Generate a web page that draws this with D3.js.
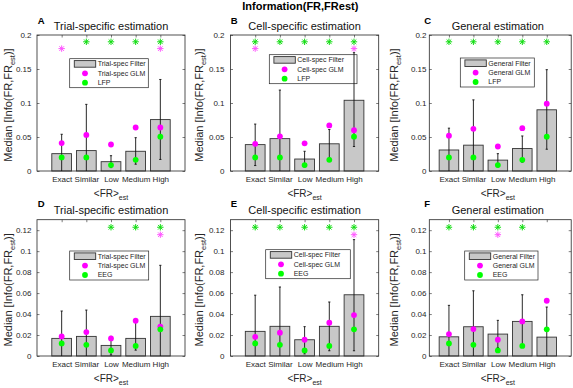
<!DOCTYPE html>
<html>
<head>
<meta charset="utf-8">
<script src="https://cdn.jsdelivr.net/npm/d3@7"></script>
<style>
  body { margin: 0; background: #fff; }
  text { font-family: "Liberation Sans", Arial, Helvetica, sans-serif; }
</style>
</head>
<body>
<svg id="chart" width="573" height="388"></svg>
<script>
const categories = ['Exact', 'Similar', 'Low', 'Medium', 'High'];

// top row: LFP
const lfpMedian = [0.020, 0.020, 0.0087, 0.0165, 0.0505];
const trialFilterLFP = [0.0255, 0.030, 0.0137, 0.029, 0.0756];
const trialLoLFP = [0, 0, 0.005, 0.010, 0.017];
const trialHiLFP = [0.054, 0.098, 0.0225, 0.049, 0.1346];
const trialGlmLFP = [0.041, 0.053, 0.039, 0.064, 0.064];
const cellFilterLFP = [0.0388, 0.0476, 0.0176, 0.040, 0.104];
const cellLoLFP = [0.008, 0, 0.006, 0.019, 0.036];
const cellHiLFP = [0.069, 0.119, 0.029, 0.061, 0.174];
const cellGlmLFP = [0.040, 0.051, 0.0407, 0.067, 0.060];
const generalFilterLFP = [0.0309, 0.038, 0.016, 0.033, 0.090];
const generalLoLFP = [0, 0, 0.006, 0.013, 0.032];
const generalHiLFP = [0.063, 0.1046, 0.0255, 0.0515, 0.149];
const generalGlmLFP = [0.052, 0.062, 0.036, 0.063, 0.099];

// bottom row: EEG
const eegMedian = [0.012, 0.0107, 0.0053, 0.0096, 0.0254];
const trialFilterEEG = [0.0168, 0.0187, 0.0101, 0.0168, 0.0378];
const trialLoEEG = [0, 0, 0.001, 0.0056, 0];
const trialHiEEG = [0.0429, 0.0438, 0.0187, 0.032, 0.0865];
const trialGlmEEG = [0.0187, 0.0228, 0.0168, 0.0336, 0.0279];
const cellFilterEEG = [0.0235, 0.0283, 0.0155, 0.0283, 0.0584];
const cellLoEEG = [0, 0, 0.002, 0.005, 0.005];
const cellHiEEG = [0.058, 0.0658, 0.028, 0.0515, 0.111];
const cellGlmEEG = [0.0183, 0.0222, 0.0155, 0.0317, 0.039];
const generalFilterEEG = [0.0183, 0.0279, 0.0209, 0.033, 0.018];
const generalLoEEG = [0, 0, 0.008, 0.009, 0];
const generalHiEEG = [0.0483, 0.0622, 0.034, 0.0584, 0.0467];
const generalGlmEEG = [0.0209, 0.0257, 0.0155, 0.033, 0.0527];

// significance stars (1 = shown)
const trialStarSigLFP = [0, 1, 1, 1, 1];
const trialStarGlmLFP = [1, 0, 0, 0, 1];
const cellStarSigLFP = [1, 1, 1, 1, 1];
const cellStarGlmLFP = [1, 0, 0, 0, 1];
const generalStarSigLFP = [1, 1, 1, 1, 1];
const generalStarGlmLFP = [0, 0, 0, 0, 0];
const trialStarSigEEG = [0, 0, 1, 1, 1];
const trialStarGlmEEG = [0, 0, 0, 0, 1];
const cellStarSigEEG = [1, 1, 1, 1, 1];
const cellStarGlmEEG = [0, 0, 0, 0, 1];
const generalStarSigEEG = [1, 1, 1, 1, 0];
const generalStarGlmEEG = [0, 0, 1, 0, 0];
const starLevelsLFP = [0.19, 0.18];
const starLevelsEEG = [0.1228, 0.1157];

const yTicksLFP = [0, 0.05, 0.1, 0.15, 0.2];
const yTicksEEG = [0, 0.02, 0.04, 0.06, 0.08, 0.1, 0.12];

const cols = [
  {fl: 37, x0: 37, x1: 185, letterX: 37.7, titleX: 111, ylabX: 12.3, tickPad: 5.5},
  {fl: 230.5, x0: 230.5, x1: 378.7, letterX: 230.7, titleX: 304.6, ylabX: 202.5, tickPad: 6},
  {fl: 429.3, x0: 424.5, x1: 571.2, letterX: 424.3, titleX: 497.8, ylabX: 397.5, tickPad: 2.8}
];
const rows = [
  {yt: 35, yb: 171, ymax: 0.2, ticks: yTicksLFP, letterY: 24, titleY: 29.8, xlabY: 196.5, stars: starLevelsLFP, sig: lfpMedian, sigName: 'LFP'},
  {yt: 219.7, yb: 356, ymax: 0.13, ticks: yTicksEEG, letterY: 207.3, titleY: 213.9, xlabY: 382.3, stars: starLevelsEEG, sig: eegMedian, sigName: 'EEG'}
];

const panels = [
  {id: 'A', r: 0, c: 0, title: 'Trial-specific estimation', kind: 'Trial-spec', filt: trialFilterLFP, lo: trialLoLFP, hi: trialHiLFP, glm: trialGlmLFP, sG: trialStarSigLFP, sM: trialStarGlmLFP, leg: [69.7, 58.7, 78.6]},
  {id: 'B', r: 0, c: 1, title: 'Cell-specific estimation', kind: 'Cell-spec', filt: cellFilterLFP, lo: cellLoLFP, hi: cellHiLFP, glm: cellGlmLFP, sG: cellStarSigLFP, sM: cellStarGlmLFP, leg: [269.3, 54.7, 87.7]},
  {id: 'C', r: 0, c: 2, title: 'General estimation', kind: 'General', filt: generalFilterLFP, lo: generalLoLFP, hi: generalHiLFP, glm: generalGlmLFP, sG: generalStarSigLFP, sM: generalStarGlmLFP, leg: [460.3, 58, 74]},
  {id: 'D', r: 1, c: 0, title: 'Trial-specific estimation', kind: 'Trial-spec', filt: trialFilterEEG, lo: trialLoEEG, hi: trialHiEEG, glm: trialGlmEEG, sG: trialStarSigEEG, sM: trialStarGlmEEG, leg: [69.7, 251, 79]},
  {id: 'E', r: 1, c: 1, title: 'Cell-specific estimation', kind: 'Cell-spec', filt: cellFilterEEG, lo: cellLoEEG, hi: cellHiEEG, glm: cellGlmEEG, sG: cellStarSigEEG, sM: cellStarGlmEEG, leg: [265.7, 249.7, 84.6]},
  {id: 'F', r: 1, c: 2, title: 'General estimation', kind: 'General', filt: generalFilterEEG, lo: generalLoEEG, hi: generalHiEEG, glm: generalGlmEEG, sG: generalStarSigEEG, sM: generalStarGlmEEG, leg: [464.7, 251, 73.3]}
];

const svg = d3.select('#chart');
const ink = '#262626';
const magenta = '#ff00ff';
const green = '#00ff00';

svg.append('text')
  .attr('x', 300.3).attr('y', 10.3)
  .attr('text-anchor', 'middle')
  .style('font-size', '11px').style('font-weight', 'bold')
  .text('Information(FR,FRest)');

function drawStar(g, cx, cy, color) {
  const s = 3.2, d = 2.3;
  [[-s, 0, s, 0], [0, -s, 0, s], [-d, -d, d, d], [-d, d, d, -d]].forEach(l => {
    g.append('line')
      .attr('x1', cx + l[0]).attr('y1', cy + l[1])
      .attr('x2', cx + l[2]).attr('y2', cy + l[3])
      .attr('stroke', color).attr('stroke-width', 1);
  });
}

panels.forEach(p => {
  const col = cols[p.c], row = rows[p.r];
  const x = d3.scaleLinear().domain([0, 6]).range([col.x0, col.x1]);
  const y = d3.scaleLinear().domain([0, row.ymax]).range([row.yb, row.yt]);
  const g = svg.append('g');
  const idx = d3.range(categories.length);

  // axes (ticks point inward, box on)
  g.append('g')
    .attr('transform', `translate(${col.fl},0)`)
    .call(d3.axisLeft(y).tickValues(row.ticks).tickSize(-2.5).tickPadding(col.tickPad)
      .tickFormat(d => String(d)));
  g.append('g')
    .attr('transform', `translate(${col.x1},0)`)
    .call(d3.axisRight(y).tickValues(row.ticks).tickSize(-2.5).tickFormat(''));
  g.append('g')
    .attr('transform', `translate(0,${row.yb})`)
    .call(d3.axisBottom(x).tickValues([1, 2, 3, 4, 5]).tickSize(-2.5).tickPadding(5)
      .tickFormat(d => categories[d - 1]));
  g.append('g')
    .attr('transform', `translate(0,${row.yt})`)
    .call(d3.axisTop(x).tickValues([1, 2, 3, 4, 5]).tickSize(-2.5).tickFormat(''));
  g.selectAll('.domain').remove();
  g.selectAll('.tick line').attr('stroke', ink).attr('stroke-width', 0.6);
  g.selectAll('.tick text').attr('fill', ink).style('font-size', '8px')
    .style('font-family', '"Liberation Sans", Arial, sans-serif');

  // bars
  g.selectAll('rect.bar').data(idx).join('rect')
    .attr('class', 'bar')
    .attr('x', i => x(i + 1 - 0.4))
    .attr('width', i => x(0.8) - x(0))
    .attr('y', i => y(p.filt[i]))
    .attr('height', i => y(0) - y(p.filt[i]))
    .attr('fill', '#c8c8c8').attr('stroke', '#333').attr('stroke-width', 0.9);

  // frame
  g.append('rect')
    .attr('x', col.fl).attr('y', row.yt)
    .attr('width', col.x1 - col.fl).attr('height', row.yb - row.yt)
    .attr('fill', 'none').attr('stroke', ink).attr('stroke-width', 0.8);

  // legend
  const [lx, ly, lw] = p.leg;
  const lg = g.append('g');
  lg.append('rect').attr('x', lx).attr('y', ly).attr('width', lw).attr('height', 29)
    .attr('fill', '#fff').attr('stroke', ink).attr('stroke-width', 0.7);
  const rowY = [ly + 5.2, ly + 14.6, ly + 24];
  lg.append('rect').attr('x', lx + 4.6).attr('y', rowY[0] - 3.3).attr('width', 21.4).attr('height', 6.6)
    .attr('fill', '#c8c8c8').attr('stroke', '#333').attr('stroke-width', 0.9);
  lg.append('circle').attr('cx', lx + 15.3).attr('cy', rowY[1]).attr('r', 2.9).attr('fill', magenta);
  lg.append('circle').attr('cx', lx + 15.3).attr('cy', rowY[2]).attr('r', 2.9).attr('fill', green);
  [p.kind + ' Filter', p.kind + ' GLM', row.sigName].forEach((t, k) => {
    lg.append('text').attr('x', lx + 28).attr('y', rowY[k]).attr('dy', '0.35em')
      .attr('fill', ink).style('font-size', '7px').text(t);
  });

  // error bars
  idx.forEach(i => {
    const cx = x(i + 1);
    g.append('line').attr('x1', cx).attr('x2', cx)
      .attr('y1', y(p.lo[i])).attr('y2', y(p.hi[i]))
      .attr('stroke', '#111').attr('stroke-width', 0.9);
    [p.lo[i], p.hi[i]].forEach(v => {
      if (v <= 0) return;
      g.append('line').attr('x1', cx - 1.1).attr('x2', cx + 1.1)
        .attr('y1', y(v)).attr('y2', y(v))
        .attr('stroke', '#111').attr('stroke-width', 0.9);
    });
  });

  // dots
  g.selectAll('circle.glm').data(idx).join('circle')
    .attr('class', 'glm')
    .attr('cx', i => x(i + 1)).attr('cy', i => y(p.glm[i]))
    .attr('r', 2.9).attr('fill', magenta);
  g.selectAll('circle.sig').data(idx).join('circle')
    .attr('class', 'sig')
    .attr('cx', i => x(i + 1)).attr('cy', i => y(row.sig[i]))
    .attr('r', 2.9).attr('fill', green);

  // stars
  idx.forEach(i => {
    if (p.sM[i]) drawStar(g, x(i + 1), y(row.stars[1]), '#ff55ff');
    if (p.sG[i]) drawStar(g, x(i + 1), y(row.stars[0]), '#11dd11');
  });

  // labels
  g.append('text').attr('x', col.letterX).attr('y', row.letterY)
    .style('font-size', '9.5px').style('font-weight', 'bold').text(p.id);
  g.append('text').attr('x', col.titleX).attr('y', row.titleY)
    .attr('text-anchor', 'middle').attr('fill', '#111')
    .style('font-size', '11px').style('font-weight', 'normal').text(p.title);

  const xl = g.append('text').attr('x', (col.x0 + col.x1) / 2).attr('y', row.xlabY)
    .attr('text-anchor', 'middle').attr('fill', ink).style('font-size', '10px');
  xl.append('tspan').text('<FR>');
  xl.append('tspan').attr('dy', 3).style('font-size', '7px').text('est');

  const yc = (row.yt + row.yb) / 2 + 2;
  const yl = g.append('text')
    .attr('transform', `translate(${col.ylabX},${yc}) rotate(-90)`)
    .attr('text-anchor', 'middle').attr('fill', ink).style('font-size', '11px');
  yl.append('tspan').text('Median [Info(FR,FR');
  yl.append('tspan').attr('dy', 3).style('font-size', '7.5px').text('est');
  yl.append('tspan').attr('dy', -3).text(')]');
});
</script>
</body>
</html>
